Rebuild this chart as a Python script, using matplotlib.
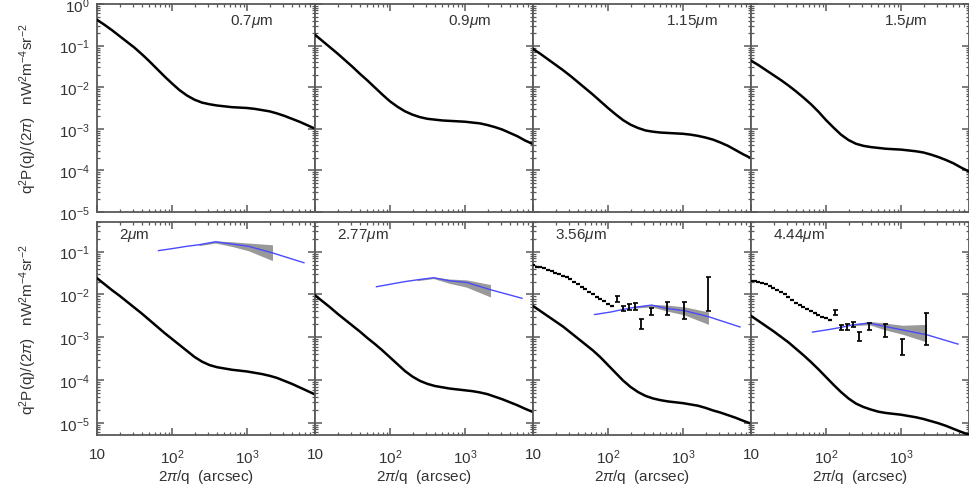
import numpy as np
import matplotlib
matplotlib.use('Agg')
import matplotlib.pyplot as plt
from matplotlib.ticker import LogLocator, FixedLocator, FixedFormatter, NullFormatter

plt.rcParams['font.family'] = ['Liberation Sans', 'DejaVu Sans']
plt.rcParams['mathtext.fontset'] = 'custom'
plt.rcParams['mathtext.rm'] = 'Liberation Sans'
plt.rcParams['mathtext.it'] = 'Liberation Sans:italic'

# valors llegits de la figura, en log10
logx_model = [1.0, 1.1, 1.2, 1.3, 1.4, 1.5, 1.6, 1.7, 1.8, 1.9, 2.0, 2.1, 2.2, 2.3, 2.4,
              2.5, 2.6, 2.7, 2.8, 2.9, 3.0, 3.1, 3.2, 3.3, 3.4, 3.5, 3.6, 3.7, 3.8, 3.91]

model_07 = [-0.38, -0.50, -0.63, -0.77, -0.91, -1.05, -1.21, -1.38, -1.56, -1.74, -1.91, -2.07,
            -2.20, -2.30, -2.37, -2.41, -2.44, -2.46, -2.48, -2.49, -2.50, -2.52, -2.55, -2.58,
            -2.63, -2.69, -2.76, -2.83, -2.91, -3.00]
model_09 = [-0.74, -0.89, -1.04, -1.19, -1.35, -1.51, -1.68, -1.84, -2.01, -2.18, -2.34, -2.47,
            -2.58, -2.66, -2.72, -2.76, -2.78, -2.80, -2.81, -2.82, -2.83, -2.85, -2.87, -2.91,
            -2.96, -3.02, -3.10, -3.18, -3.28, -3.37]
model_115 = [-1.08, -1.20, -1.33, -1.46, -1.59, -1.73, -1.88, -2.03, -2.18, -2.34, -2.50, -2.65,
             -2.79, -2.90, -2.98, -3.04, -3.07, -3.09, -3.10, -3.11, -3.12, -3.14, -3.17, -3.21,
             -3.26, -3.33, -3.41, -3.51, -3.61, -3.71]
model_15 = [-1.36, -1.47, -1.59, -1.71, -1.83, -1.96, -2.10, -2.25, -2.41, -2.59, -2.79, -2.97,
            -3.14, -3.27, -3.36, -3.41, -3.44, -3.46, -3.48, -3.49, -3.50, -3.52, -3.54, -3.57,
            -3.62, -3.68, -3.75, -3.83, -3.93, -4.03]
model_2 = [-1.62, -1.76, -1.90, -2.03, -2.17, -2.31, -2.45, -2.60, -2.75, -2.90, -3.04, -3.18,
           -3.32, -3.46, -3.57, -3.65, -3.70, -3.73, -3.76, -3.78, -3.80, -3.83, -3.86, -3.90,
           -3.95, -4.02, -4.09, -4.17, -4.25, -4.34]
model_277 = [-2.02, -2.16, -2.30, -2.45, -2.59, -2.73, -2.87, -3.02, -3.16, -3.31, -3.47, -3.63,
             -3.79, -3.92, -4.02, -4.09, -4.14, -4.17, -4.20, -4.22, -4.24, -4.26, -4.29, -4.33,
             -4.39, -4.45, -4.52, -4.59, -4.67, -4.75]
model_356 = [-2.27, -2.39, -2.51, -2.63, -2.75, -2.89, -3.03, -3.17, -3.31, -3.47, -3.65, -3.83,
             -4.01, -4.16, -4.28, -4.37, -4.43, -4.47, -4.50, -4.52, -4.54, -4.57, -4.60, -4.65,
             -4.71, -4.76, -4.82, -4.88, -4.95, -5.02]
model_444 = [-2.50, -2.62, -2.74, -2.86, -2.99, -3.12, -3.27, -3.42, -3.58, -3.75, -3.93, -4.11,
             -4.28, -4.43, -4.55, -4.63, -4.69, -4.74, -4.77, -4.79, -4.81, -4.84, -4.87, -4.91,
             -4.96, -5.01, -5.07, -5.14, -5.21, -5.28]

# línia blava i banda grisa
logx_blue = [1.82, 2.04, 2.2, 2.36, 2.58, 2.79, 3.02, 3.34, 3.76]
blue_2 = [-0.977, -0.92, -0.875, -0.84, -0.77, -0.82, -0.875, -1.03, -1.26]
blue_277 = [-1.82, -1.75, -1.70, -1.66, -1.61, -1.68, -1.72, -1.89, -2.09]
blue_356 = [-2.47, -2.41, -2.35, -2.30, -2.25, -2.33, -2.38, -2.52, -2.76]
blue_444 = [-2.88, -2.82, -2.77, -2.71, -2.67, -2.75, -2.83, -2.94, -3.16]

logx_band = [2.36, 2.58, 2.79, 3.02, 3.34]
band_hi_2 = [-0.82, -0.75, -0.77, -0.80, -0.84]
band_lo_2 = [-0.86, -0.80, -0.875, -0.98, -1.21]
band_hi_277 = [-1.64, -1.59, -1.64, -1.66, -1.77]
band_lo_277 = [-1.68, -1.63, -1.74, -1.83, -2.06]
band_hi_356 = [-2.28, -2.23, -2.25, -2.29, -2.41]
band_lo_356 = [-2.32, -2.29, -2.39, -2.48, -2.70]
band_hi_444 = [-2.69, -2.63, -2.67, -2.72, -2.70]
band_lo_444 = [-2.73, -2.71, -2.83, -2.93, -3.11]

# mesures (punts petits i barres d'error)
logx_dots = [1.0, 1.05, 1.1, 1.15, 1.2, 1.25, 1.3, 1.35, 1.4, 1.45, 1.5,
             1.55, 1.6, 1.65, 1.7, 1.75, 1.8, 1.85, 1.9, 1.95, 2.0, 2.05]
dots_356 = [-1.32, -1.35, -1.37, -1.39, -1.42, -1.45, -1.49, -1.52, -1.56, -1.60, -1.65,
            -1.70, -1.76, -1.82, -1.88, -1.94, -1.99, -2.05, -2.10, -2.16, -2.22, -2.26]
dots_444 = [-1.68, -1.69, -1.71, -1.73, -1.76, -1.80, -1.85, -1.89, -1.94, -2.00, -2.06,
            -2.13, -2.19, -2.24, -2.29, -2.34, -2.39, -2.43, -2.47, -2.52, -2.56, -2.59]

logx_err = [2.12, 2.20, 2.28, 2.36, 2.44, 2.57, 2.79, 3.02, 3.34]
err_hi_356 = [-2.04, -2.26, -2.22, -2.205, -2.57, -2.32, -2.17, -2.18, -1.60]
err_lo_356 = [-2.18, -2.38, -2.355, -2.355, -2.81, -2.48, -2.48, -2.57, -2.38]
err_hi_444 = [-2.36, -2.72, -2.70, -2.64, -2.88, -2.67, -2.68, -3.03, -2.43]
err_lo_444 = [-2.47, -2.84, -2.84, -2.76, -3.09, -2.84, -3.00, -3.42, -3.19]

top_labels = ['0.7', '0.9', '1.15', '1.5']
bottom_labels = ['2', '2.77', '3.56', '4.44']

top_models = [model_07, model_09, model_115, model_15]
bottom_models = [model_2, model_277, model_356, model_444]
blue_lines = [blue_2, blue_277, blue_356, blue_444]
bands = [(band_lo_2, band_hi_2), (band_lo_277, band_hi_277),
         (band_lo_356, band_hi_356), (band_lo_444, band_hi_444)]
dots = [None, None, dots_356, dots_444]
errs = [None, None, (err_lo_356, err_hi_356), (err_lo_444, err_hi_444)]

W, H = 969, 485
fig = plt.figure(figsize=(W / 100, H / 100), dpi=100)

left = 97 / W
pw = 218 / W
rows = [(5, 213, (1e-5, 1.0)), (222.7, 436, (5.2e-6, 0.5))]
xlim = (10, 10 ** 3.907)
frame_col = '0.35'
txt_col = '0.2'


def style_axes(ax, ylim, show_y, show_x):
    ax.set_xscale('log')
    ax.set_yscale('log')
    ax.set_xlim(*xlim)
    ax.set_ylim(*ylim)
    for s in ax.spines.values():
        s.set_color(frame_col)
        s.set_linewidth(1.3)
    ax.xaxis.set_major_locator(FixedLocator([10, 100, 1000]))
    ax.xaxis.set_minor_locator(LogLocator(base=10, subs=np.arange(2, 10), numticks=20))
    ax.yaxis.set_major_locator(LogLocator(base=10, numticks=20))
    ax.yaxis.set_minor_locator(LogLocator(base=10, subs=np.arange(2, 10), numticks=20))
    ax.tick_params(which='both', direction='in', top=True, right=True,
                   color=frame_col, labelcolor=txt_col, labelsize=11)
    ax.tick_params(which='major', length=5, width=1.1)
    ax.tick_params(which='minor', length=2.5, width=0.9)
    ax.tick_params(axis='x', pad=9)
    ax.tick_params(axis='y', pad=5)
    if show_x:
        ax.xaxis.set_major_formatter(FixedFormatter(['10', '$10^2$', '$10^3$']))
    else:
        ax.xaxis.set_major_formatter(NullFormatter())
    ax.xaxis.set_minor_formatter(NullFormatter())
    ax.yaxis.set_minor_formatter(NullFormatter())
    if not show_y:
        ax.yaxis.set_major_formatter(NullFormatter())


to_val = lambda a: 10 ** np.array(a)

for r, (ytop, ybot, ylim) in enumerate(rows):
    bottom = 1 - ybot / H
    height = (ybot - ytop) / H
    for i in range(4):
        ax = fig.add_axes([left + i * pw, bottom, pw, height])
        style_axes(ax, ylim, i == 0, r == 1)
        if r == 0:
            ax.plot(to_val(logx_model), to_val(top_models[i]), color='black', lw=1.8, zorder=3)
            ax.text(0.61, 0.92, top_labels[i] + r'$\mu$m', transform=ax.transAxes,
                    fontsize=11, color=txt_col, va='center', ha='left')
        else:
            ax.plot(to_val(logx_model), to_val(bottom_models[i]), color='black', lw=1.8, zorder=3)
            lo, hi = bands[i]
            ax.fill_between(to_val(logx_band), to_val(lo), to_val(hi),
                            color='0.6', lw=0, zorder=1)
            ax.plot(to_val(logx_blue), to_val(blue_lines[i]), color='#4a4aff', lw=1, zorder=2)
            if dots[i] is not None:
                ax.plot(to_val(logx_dots), to_val(dots[i]), ls='none', marker='_',
                        ms=2.5, mew=1.6, color='black', zorder=4)
                elo, ehi = errs[i]
                lo_v, hi_v = to_val(elo), to_val(ehi)
                mid = np.sqrt(lo_v * hi_v)
                ax.errorbar(to_val(logx_err), mid, yerr=[mid - lo_v, hi_v - mid],
                            fmt='none', ecolor='black', elinewidth=1.3,
                            capsize=1.8, capthick=1.2, zorder=4)
            ax.text(0.1, 0.94, bottom_labels[i] + r'$\mu$m', transform=ax.transAxes,
                    fontsize=11, color=txt_col, va='center', ha='left')
            ax.set_xlabel(r'2$\pi$/q  (arcsec)', fontsize=11, color=txt_col, labelpad=1)

    fig.text(28 / W, 1 - (ytop + ybot) / 2 / H,
             r'q$^2$P(q)/(2$\pi$)   nW$^2$m$^{-4}$sr$^{-2}$',
             rotation=90, ha='center', va='center', fontsize=11, color=txt_col)

fig.savefig('out.png', dpi=100)
